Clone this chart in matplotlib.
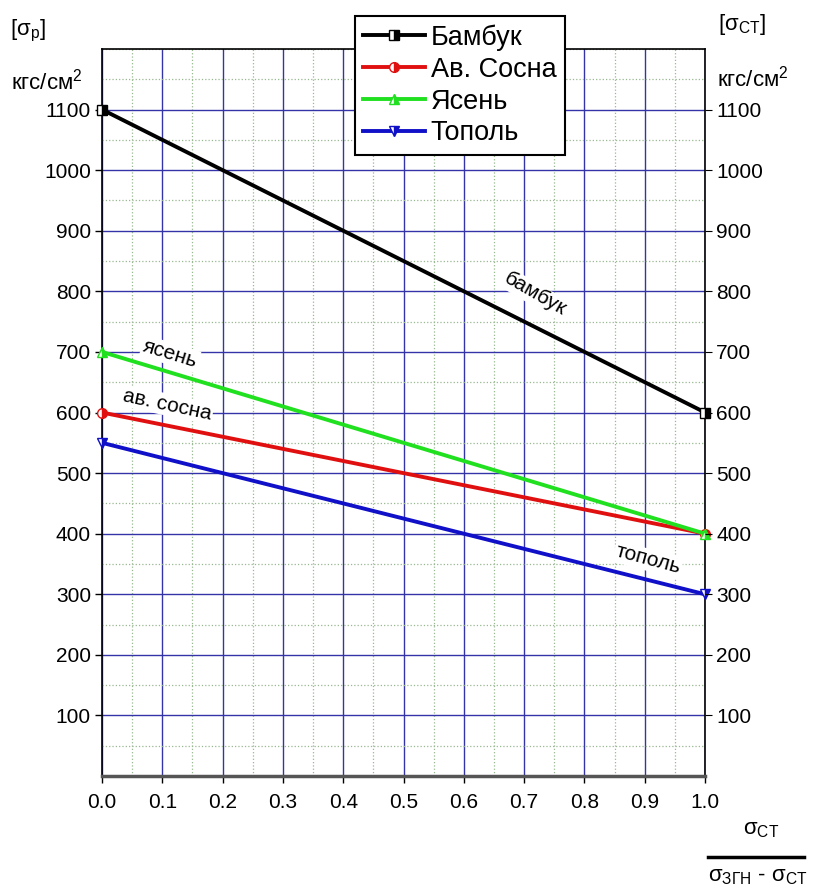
import matplotlib
matplotlib.use("Agg")
import matplotlib.pyplot as plt
from matplotlib.ticker import MultipleLocator
from matplotlib.lines import Line2D

plt.rcParams['font.family'] = ['Liberation Sans', 'DejaVu Sans']

# data: stress ratio on x, allowed stress on y (two end points per wood)
x_ratio = [0.0, 1.0]
names = ['Бамбук', 'Ав. Сосна', 'Ясень', 'Тополь']
bamboo = [1100, 600]
pine = [600, 400]
ash = [700, 400]
poplar = [550, 300]
series = [bamboo, pine, ash, poplar]
colors = ['#000000', '#e01010', '#20e020', '#1010c8']
markers = ['s', 'o', '^', 'v']
y_ticks = [100, 200, 300, 400, 500, 600, 700, 800, 900, 1000, 1100]
x_ticks = [0.0, 0.1, 0.2, 0.3, 0.4, 0.5, 0.6, 0.7, 0.8, 0.9, 1.0]

fig = plt.figure(figsize=(8.18, 8.9), dpi=100)
ax = fig.add_axes([0.1247, 0.128, 0.7373, 0.817])

ax.set_xlim(0, 1)
ax.set_ylim(0, 1200)
ax.set_xticks(x_ticks)
ax.set_xticklabels(['%.1f' % v for v in x_ticks])
ax.set_yticks(y_ticks)
ax.xaxis.set_minor_locator(MultipleLocator(0.05))
ax.yaxis.set_minor_locator(MultipleLocator(50))
ax.grid(which='major', color='#3434a8', lw=1.0)
ax.grid(which='minor', color='#98b890', lw=0.9, ls=':')
ax.set_axisbelow(True)
ax.tick_params(which='major', direction='out', length=5, labelsize=15, width=1)
ax.tick_params(which='minor', length=0)
ax.tick_params(axis='x', pad=7)
ax.tick_params(axis='y', pad=3)
for s in ax.spines.values():
    s.set_linewidth(1.2)
ax.spines['bottom'].set_linewidth(2.5)
ax.spines['bottom'].set_color('#555555')

handles = []
for ys, c, m, n in zip(series, colors, markers, names):
    ln, = ax.plot(x_ratio, ys, color=c, lw=2.8, marker=m, ms=7,
                  fillstyle='right', markerfacecoloralt='white',
                  markeredgecolor=c, markeredgewidth=1, clip_on=False,
                  zorder=3, label=n)
    handles.append(ln)

# right axis duplicates left one
ax2 = ax.twinx()
ax2.set_ylim(0, 1200)
ax2.set_yticks(y_ticks)
ax2.tick_params(direction='out', length=5, labelsize=15, pad=3)
for s in ax2.spines.values():
    s.set_visible(False)

# labels along lines
box = dict(facecolor='white', edgecolor='none', pad=1)
ax.text(0.718, 795, 'бамбук', rotation=-30, fontsize=15, ha='center', va='center', bbox=box)
ax.text(0.113, 697, 'ясень', rotation=-17, fontsize=15, ha='center', va='center', bbox=box)
ax.text(0.108, 613, 'ав. сосна', rotation=-12, fontsize=15, ha='center', va='center', bbox=box)
ax.text(0.905, 357, 'тополь', rotation=-15, fontsize=15, ha='center', va='center', bbox=box)

leg = fig.legend(handles=handles, loc='upper left', bbox_to_anchor=(0.434, 0.982),
                 fontsize=19.5, frameon=True, fancybox=False, edgecolor='black',
                 framealpha=1, handlelength=2.3, handletextpad=0.2,
                 labelspacing=0.22, borderpad=0.3, borderaxespad=0)
leg.get_frame().set_linewidth(1.5)

# axis captions
fig.text(0.012, 0.965, r'[$\mathregular{\sigma_{р}}$]', fontsize=16, va='center')
fig.text(0.014, 0.908, r'кгс/см$\mathregular{^2}$', fontsize=16, va='center')
fig.text(0.878, 0.972, r'[$\mathregular{\sigma_{СТ}}$]', fontsize=16, va='center')
fig.text(0.876, 0.912, r'кгс/см$\mathregular{^2}$', fontsize=16, va='center')

fig.text(0.93, 0.068, r'$\mathregular{\sigma_{СТ}}$', fontsize=16, ha='center', va='center')
fig.add_artist(Line2D([0.866, 0.983], [0.037, 0.037], color='black', lw=2.5))
fig.text(0.927, 0.015, r'$\mathregular{\sigma_{ЗГН}}$ - $\mathregular{\sigma_{СТ}}$', fontsize=16, ha='center', va='center')

fig.savefig('out.png', dpi=100)
